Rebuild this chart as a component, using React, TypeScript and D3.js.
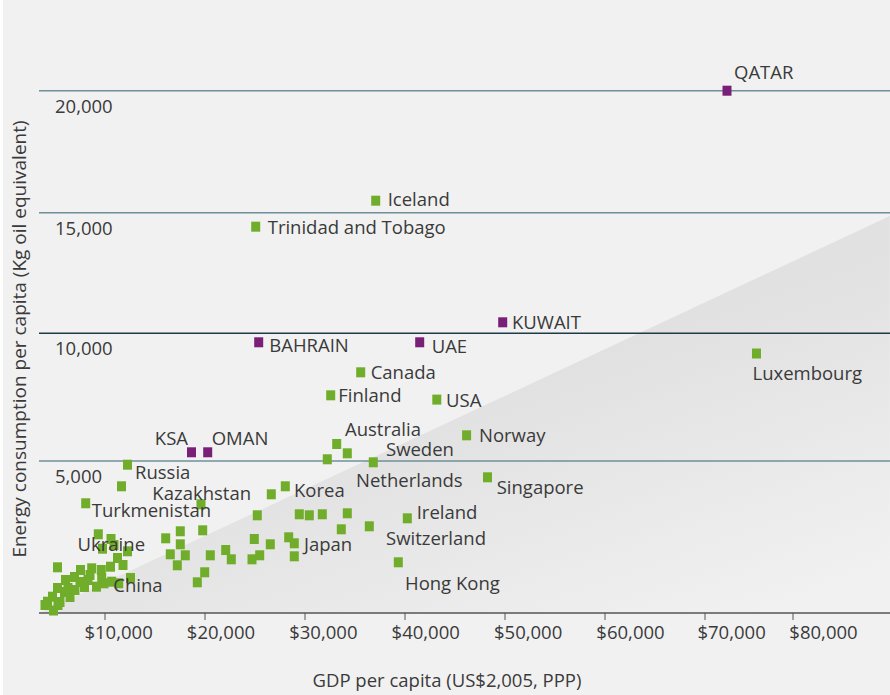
import React from "react";
import * as d3 from "d3";

// ---------- DATA ----------
const gccNames = ["QATAR", "KUWAIT", "BAHRAIN", "UAE", "KSA", "OMAN"];
const gccGdp = [72500, 49770, 25370, 41470, 18650, 20270];
const gccEnergy = [20000, 10456, 9648, 9648, 5341, 5341];

const labelledNames = [
  "Iceland", "Trinidad and Tobago", "Luxembourg", "Canada", "Finland", "USA",
  "Norway", "Singapore", "Australia", "Sweden", "Netherlands", "Korea",
  "Kazakhstan", "Russia", "Turkmenistan", "Ukraine", "China", "Japan",
  "Ireland", "Switzerland", "Hong Kong",
];
const labelledGdp = [
  37070, 25070, 75850, 35570, 32570, 43180,
  46160, 48250, 33170, 36830, 34230, 28030,
  19600, 12250, 7031, 10600, 10670, 28930,
  40230, 36430, 39330,
];
const labelledEnergy = [
  15492, 14420, 9209, 8473, 7572, 7404,
  6006, 4464, 5666, 4957, 5301, 4168,
  3576, 4878, 3609, 2434, 1030, 2293,
  3115, 2852, 1668,
];

const otherGdp = [
  32230, 26630, 25230, 29430, 30430, 31730, 34230, 33630, 17530, 19770,
  16070, 24930, 28370, 17530, 26530, 16530, 18030, 20530, 22070, 22630,
  24700, 25470, 28930, 17230, 19970, 19230, 11650,
  8969, 10900, 12250, 11250, 9615, 11800, 10550, 9431, 7954, 6231,
  2692, 12550, 9492, 11370, 9846, 8692, 3923, 5308, 6846, 2692,
  1923, 1154, 2077, 3769, 4615, 3077, 5385, 7385, 4308, 2769,
  769, 6154, 7692,
];
const otherEnergy = [
  5067, 3905, 3214, 3247, 3214, 3247, 3280, 2753, 2688, 2720,
  2457, 2434, 2490, 2260, 2260, 1931, 1898, 1898, 2072, 1766,
  1766, 1898, 1865, 1569, 1339, 1010, 4168,
  2589, 2237, 2030, 1809, 2115, 1579, 1523, 1414, 1470, 1414,
  1503, 1151, 1151, 977, 977, 865, 1086, 1184, 855, 822,
  536, 372, 82, 691, 526, 362, 757, 1086, 822, 263,
  263, 1020, 1250,
];

// shaded "frontier" wedge endpoints (GDP, energy)
const frontierGdp = [0, 91000];
const frontierEnergy = [0, 14860];

const xTicks = [10000, 20000, 30000, 40000, 50000, 60000, 70000, 80000];
const yTicks = [5000, 10000, 15000, 20000];

// ---------- LAYOUT ----------
const W = 890;
const H = 695;
const FONT = "'Open Sans', sans-serif";
const TEXT = "#3a3a3a";
const GREEN = "#70ad2b";
const PURPLE = "#7a1f78";
const FS = 18.5;

const x = d3.scaleLinear().domain([0, 10000, 70000, 80000]).range([40, 105, 705, 793]);
const xLabel = d3.scaleLinear().domain([10000, 60000, 70000, 80000]).range([118.6, 630.5, 731.6, 823.5]);
const y = d3.scaleLinear().domain([0, 5000, 10000, 15000, 20000]).range([613, 461, 333.3, 212.7, 90.7]);

type Lab = { dx: number; dy: number; anchor?: "start" | "middle" | "end" };
const labelLayout: Record<string, Lab> = {
  QATAR: { dx: 7, dy: -12 },
  KUWAIT: { dx: 9.3, dy: 6.5 },
  BAHRAIN: { dx: 10.6, dy: 9.4 },
  UAE: { dx: 12, dy: 11 },
  KSA: { dx: -3.5, dy: -7.3, anchor: "end" },
  OMAN: { dx: 4, dy: -7.3 },
  Iceland: { dx: 12, dy: 5 },
  "Trinidad and Tobago": { dx: 12, dy: 7 },
  Luxembourg: { dx: -4, dy: 26 },
  Canada: { dx: 10, dy: 6.7 },
  Finland: { dx: 7.6, dy: 6.4 },
  USA: { dx: 9.3, dy: 7 },
  Norway: { dx: 12.4, dy: 6.4 },
  Singapore: { dx: 9.2, dy: 17 },
  Australia: { dx: 8.3, dy: -8 },
  Sweden: { dx: 12.7, dy: -6.3 },
  Netherlands: { dx: 8.7, dy: 33.4 },
  Korea: { dx: 8.7, dy: 11 },
  Kazakhstan: { dx: 0.7, dy: -4.3, anchor: "middle" },
  Russia: { dx: 7.5, dy: 14.6 },
  Turkmenistan: { dx: 6, dy: 14 },
  Ukraine: { dx: 0.3, dy: 11.7, anchor: "middle" },
  China: { dx: 1.6, dy: 10.6 },
  Japan: { dx: 9.7, dy: 7.4 },
  Ireland: { dx: 9.4, dy: 0.7 },
  Switzerland: { dx: 16.7, dy: 18.7 },
  "Hong Kong": { dx: 6.7, dy: 27.7 },
};

const MW = 9;
const MH = 10;

function Marker({ gx, ey, fill }: { gx: number; ey: number; fill: string }) {
  return <rect x={x(gx) - MW / 2} y={y(ey) - MH / 2} width={MW} height={MH} fill={fill} />;
}

function Label({ name, gx, ey }: { name: string; gx: number; ey: number }) {
  const l = labelLayout[name] || { dx: 8, dy: 5 };
  return (
    <text x={x(gx) + l.dx} y={y(ey) + l.dy} textAnchor={l.anchor || "start"}>
      {name}
    </text>
  );
}

export default function App() {
  const fx0 = x(frontierGdp[0]);
  const fy0 = y(frontierEnergy[0]);
  const fx1 = x(frontierGdp[1]);
  const fy1 = y(frontierEnergy[1]);
  const wedge = d3.line()([
    [fx0, fy0],
    [fx1, fy1],
    [fx1, fy0],
  ]) + "Z";

  return (
    <svg
      width={W}
      height={H}
      style={{ position: "absolute", left: 0, top: 0 }}
      fontFamily={FONT}
    >
      <defs>
        <linearGradient id="wedgeGrad" gradientUnits="userSpaceOnUse" x1={600} y1={352} x2={700} y2={640}>
          <stop offset="0" stopColor="#e1e1e1" />
          <stop offset="1" stopColor="#f1f1f1" />
        </linearGradient>
      </defs>
      <rect x={0} y={0} width={W} height={H} fill="#ffffff" />
      <rect x={3} y={0} width={W - 3} height={H} fill="#f1f1f1" />
      <path d={wedge} fill="url(#wedgeGrad)" />

      {/* gridlines */}
      {yTicks.map((t) => (
        <line
          key={t}
          x1={39}
          x2={W}
          y1={y(t)}
          y2={y(t)}
          stroke={t === 10000 ? "#1f3a4a" : "#6f8f9a"}
          strokeWidth={1.5}
        />
      ))}
      {/* x axis baseline */}
      <line x1={39} x2={W} y1={y(0)} y2={y(0)} stroke="#555" strokeWidth={1.5} />
      {xTicks.map((t) => (
        <line key={t} x1={x(t)} x2={x(t)} y1={y(0)} y2={y(0) + 7} stroke="#555" strokeWidth={1} />
      ))}

      <g fontSize={FS} fill={TEXT}>
        {yTicks.map((t) => (
          <text key={t} x={55} y={y(t) + 22}>
            {d3.format(",")(t)}
          </text>
        ))}
        {xTicks.map((t) => (
          <text key={t} x={xLabel(t)} y={639} textAnchor="middle">
            {"$" + d3.format(",")(t)}
          </text>
        ))}
        <text x={447} y={687} textAnchor="middle">
          GDP per capita (US$2,005, PPP)
        </text>
        <text transform="translate(26,339) rotate(-90)" textAnchor="middle" fontSize={19}>
          Energy consumption per capita (Kg oil equivalent)
        </text>
      </g>

      {/* markers */}
      {otherGdp.map((g, i) => (
        <Marker key={"o" + i} gx={g} ey={otherEnergy[i]} fill={GREEN} />
      ))}
      {labelledGdp.map((g, i) => (
        <Marker key={"l" + i} gx={g} ey={labelledEnergy[i]} fill={GREEN} />
      ))}
      {gccGdp.map((g, i) => (
        <Marker key={"g" + i} gx={g} ey={gccEnergy[i]} fill={PURPLE} />
      ))}

      {/* labels */}
      <g fontSize={FS} fill={TEXT}>
        {labelledNames.map((n, i) => (
          <Label key={n} name={n} gx={labelledGdp[i]} ey={labelledEnergy[i]} />
        ))}
        {gccNames.map((n, i) => (
          <Label key={n} name={n} gx={gccGdp[i]} ey={gccEnergy[i]} />
        ))}
      </g>
    </svg>
  );
}
